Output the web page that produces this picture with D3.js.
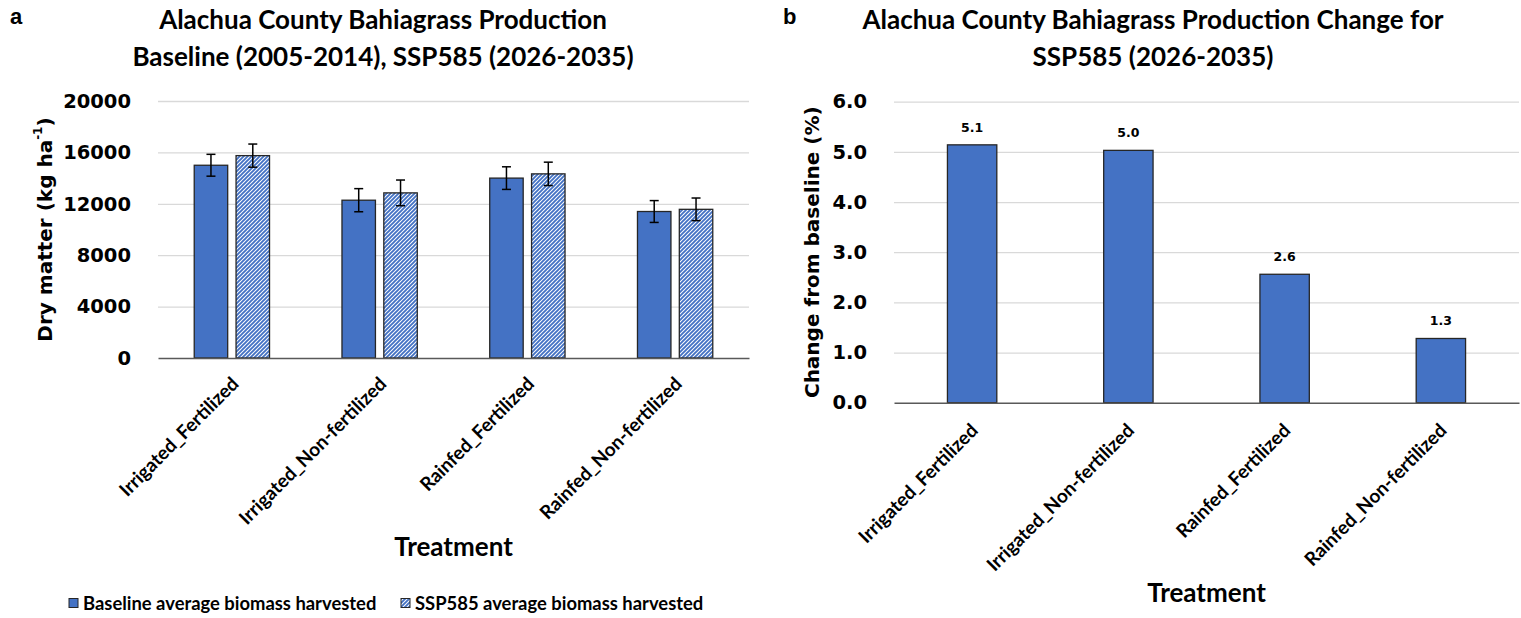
<!DOCTYPE html>
<html>
<head>
<meta charset="utf-8">
<script src="https://cdn.jsdelivr.net/npm/d3@7"></script>
<style>
  html, body { margin: 0; padding: 0; background: #fff; }
  svg { display: block; }
  .title { font-family: Lato, "Open Sans", sans-serif; font-weight: 700; fill: #000; }
  .tick-num { font-family: "DejaVu Sans", sans-serif; font-weight: 700; fill: #000; }
  .cat { font-family: Lato, "Open Sans", sans-serif; font-weight: 700; fill: #000; }
</style>
</head>
<body>
<svg id="chart" width="1521" height="618"></svg>
<script>
// Treatments shared by both panels
const categories = ["Irrigated_Fertilized", "Irrigated_Non-fertilized", "Rainfed_Fertilized", "Rainfed_Non-fertilized"];

// Panel a: average dry matter harvested (kg/ha) with error bars
const baselineBiomass = [15000, 12280, 14000, 11400];
const baselineError   = [850, 900, 880, 850];
const ssp585Biomass   = [15750, 12850, 14330, 11570];
const ssp585Error     = [900, 1000, 910, 880];
const biomassTicks    = [0, 4000, 8000, 12000, 16000, 20000];

// Panel b: percentage change of SSP585 over the baseline
const changePct   = [5.14, 5.03, 2.56, 1.28];
const changeTicks = [0, 1, 2, 3, 4, 5, 6];

const seriesNames = ["Baseline average biomass harvested", "SSP585 average biomass harvested"];

const BLUE = "#4472C4";
const OUTLINE = "#262626";
const GRID = "#d9d9d9";
const AXIS = "#595959";

const svg = d3.select("#chart");

// Diagonal hatch used for the SSP585 series
const defs = svg.append("defs");
const pat = defs.append("pattern")
  .attr("id", "hatch")
  .attr("patternUnits", "userSpaceOnUse")
  .attr("width", 4).attr("height", 4);
pat.append("rect").attr("width", 4).attr("height", 4).attr("fill", "#fff");
pat.append("path")
  .attr("d", "M-1,1 L1,-1 M0,4 L4,0 M3,5 L5,3")
  .attr("stroke", BLUE).attr("stroke-width", 1.9);

// ---------- Panel a ----------
const A = { left: 158, right: 749, top: 101, bottom: 358 };

const xA = d3.scaleBand().domain(categories).range([A.left, A.right]).padding(0);
const xInner = d3.scaleBand().domain([0, 1])
  .range([0, xA.bandwidth()]).paddingInner(0.2).paddingOuter(0.866);
const yA = d3.scaleLinear().domain([0, 20000]).range([A.bottom, A.top]);

const gA = svg.append("g");

// gridlines
gA.append("g")
  .attr("transform", `translate(${A.left},0)`)
  .call(d3.axisLeft(yA).tickValues(biomassTicks.slice(1)).tickSize(-(A.right - A.left)).tickFormat(""))
  .call(g => g.select(".domain").remove())
  .call(g => g.selectAll("line").attr("stroke", GRID).attr("stroke-width", 1.3));

// y tick labels
gA.append("g")
  .attr("transform", `translate(${A.left},0)`)
  .call(d3.axisLeft(yA).tickValues(biomassTicks).tickSize(0).tickPadding(27).tickFormat(d3.format("d")))
  .call(g => g.select(".domain").remove())
  .call(g => g.selectAll("text").attr("class", "tick-num").style("font-size", "19.5px")
    .attr("font-family", null).attr("fill", "#000"));

const bioSeries = [
  { vals: baselineBiomass, errs: baselineError, fill: BLUE },
  { vals: ssp585Biomass, errs: ssp585Error, fill: "url(#hatch)" }
];

bioSeries.forEach((s, si) => {
  const bars = gA.append("g");
  bars.selectAll("rect").data(categories).join("rect")
    .attr("x", (c) => xA(c) + xInner(si))
    .attr("width", xInner.bandwidth())
    .attr("y", (c, i) => yA(s.vals[i]))
    .attr("height", (c, i) => yA(0) - yA(s.vals[i]))
    .attr("fill", s.fill)
    .attr("stroke", OUTLINE).attr("stroke-width", 1.3);

  const eb = gA.append("g").attr("stroke", "#000").attr("stroke-width", 1.5);
  categories.forEach((c, i) => {
    const cx = xA(c) + xInner(si) + xInner.bandwidth() / 2;
    const hi = yA(s.vals[i] + s.errs[i]);
    const lo = yA(s.vals[i] - s.errs[i]);
    eb.append("line").attr("x1", cx).attr("x2", cx).attr("y1", hi).attr("y2", lo);
    eb.append("line").attr("x1", cx - 4.5).attr("x2", cx + 4.5).attr("y1", hi).attr("y2", hi);
    eb.append("line").attr("x1", cx - 4.5).attr("x2", cx + 4.5).attr("y1", lo).attr("y2", lo);
  });
});

// x axis with rotated category labels
gA.append("g")
  .attr("transform", `translate(0,${A.bottom})`)
  .call(d3.axisBottom(xA).tickSize(0).tickPadding(0))
  .call(g => g.select(".domain").attr("stroke", AXIS).attr("stroke-width", 1.6))
  .call(g => g.selectAll("text")
    .attr("class", "cat").style("font-size", "19px").attr("font-family", null).attr("fill", "#000")
    .attr("text-anchor", "end").attr("dy", null).attr("y", 0)
    .attr("transform", "translate(8,27) rotate(-45)"));

// titles and axis labels
gA.append("text").attr("class", "title").attr("x", 383).attr("y", 29)
  .attr("text-anchor", "middle").style("font-size", "26px")
  .text("Alachua County Bahiagrass Production");
gA.append("text").attr("class", "title").attr("x", 383).attr("y", 66)
  .attr("text-anchor", "middle").style("font-size", "26px")
  .text("Baseline (2005-2014), SSP585 (2026-2035)");
gA.append("text").attr("x", 10).attr("y", 24)
  .style("font-family", "'Liberation Sans', Arial, sans-serif").style("font-weight", 700).style("font-size", "22px")
  .text("a");

const yLabA = gA.append("text").attr("class", "tick-num")
  .attr("transform", `translate(45,${(A.top + A.bottom) / 2}) rotate(-90)`)
  .attr("text-anchor", "middle").attr("dominant-baseline", "central")
  .style("font-size", "20px");
yLabA.append("tspan").text("Dry matter (kg ha");
yLabA.append("tspan").attr("dy", -7).style("font-size", "12px").text("-1");
yLabA.append("tspan").attr("dy", 7).text(")");

gA.append("text").attr("class", "title").attr("x", (A.left + A.right) / 2).attr("y", 556)
  .attr("text-anchor", "middle").style("font-size", "26px").text("Treatment");

// legend
const legend = gA.append("g").attr("transform", "translate(0,603)");
const legendX = [69, 401];
seriesNames.forEach((name, i) => {
  const item = legend.append("g").attr("transform", `translate(${legendX[i]},0)`);
  item.append("rect").attr("x", 0).attr("y", -4.5).attr("width", 9).attr("height", 9)
    .attr("fill", i === 0 ? BLUE : "url(#hatch)").attr("stroke", OUTLINE).attr("stroke-width", 1);
  item.append("text").attr("class", "cat").attr("x", 14).attr("y", 0)
    .attr("dominant-baseline", "central").style("font-size", "18.4px").text(name);
});

// ---------- Panel b ----------
const B = { left: 894, right: 1519, top: 101.7, bottom: 402.7 };

const xB = d3.scaleBand().domain(categories).range([B.left, B.right])
  .paddingInner(0.684).paddingOuter(0.342);
const yB = d3.scaleLinear().domain([0, 6]).range([B.bottom, B.top]);

const gB = svg.append("g");

gB.append("g")
  .attr("transform", `translate(${B.left},0)`)
  .call(d3.axisLeft(yB).tickValues(changeTicks.slice(1)).tickSize(-(B.right - B.left)).tickFormat(""))
  .call(g => g.select(".domain").remove())
  .call(g => g.selectAll("line").attr("stroke", GRID).attr("stroke-width", 1.3));

gB.append("g")
  .attr("transform", `translate(${B.left},0)`)
  .call(d3.axisLeft(yB).tickValues(changeTicks).tickSize(0).tickPadding(27).tickFormat(d3.format(".1f")))
  .call(g => g.select(".domain").remove())
  .call(g => g.selectAll("text").attr("class", "tick-num").style("font-size", "19.5px")
    .attr("font-family", null).attr("fill", "#000"));

gB.append("g").selectAll("rect").data(categories).join("rect")
  .attr("x", c => xB(c))
  .attr("width", xB.bandwidth())
  .attr("y", (c, i) => yB(changePct[i]))
  .attr("height", (c, i) => yB(0) - yB(changePct[i]))
  .attr("fill", BLUE).attr("stroke", OUTLINE).attr("stroke-width", 1.3);

gB.append("g").selectAll("text").data(categories).join("text")
  .attr("class", "tick-num")
  .attr("x", c => xB(c) + xB.bandwidth() / 2)
  .attr("y", (c, i) => yB(changePct[i]) - 13)
  .attr("text-anchor", "middle").style("font-size", "12.5px")
  .text((c, i) => d3.format(".1f")(changePct[i]));

gB.append("g")
  .attr("transform", `translate(0,${B.bottom})`)
  .call(d3.axisBottom(xB).tickSize(0).tickPadding(0))
  .call(g => g.select(".domain").attr("stroke", AXIS).attr("stroke-width", 1.6))
  .call(g => g.selectAll("text")
    .attr("class", "cat").style("font-size", "19px").attr("font-family", null).attr("fill", "#000")
    .attr("text-anchor", "end").attr("dy", null).attr("y", 0)
    .attr("transform", "translate(7,29) rotate(-45)"));

gB.append("text").attr("class", "title").attr("x", 1153).attr("y", 29)
  .attr("text-anchor", "middle").style("font-size", "26px")
  .text("Alachua County Bahiagrass Production Change for");
gB.append("text").attr("class", "title").attr("x", 1153).attr("y", 66)
  .attr("text-anchor", "middle").style("font-size", "26px")
  .text("SSP585 (2026-2035)");
gB.append("text").attr("x", 783).attr("y", 24)
  .style("font-family", "'Liberation Sans', Arial, sans-serif").style("font-weight", 700).style("font-size", "22px")
  .text("b");

gB.append("text").attr("class", "tick-num")
  .attr("transform", `translate(812,${(B.top + B.bottom) / 2}) rotate(-90)`)
  .attr("text-anchor", "middle").attr("dominant-baseline", "central")
  .style("font-size", "20px").text("Change from baseline (%)");

gB.append("text").attr("class", "title").attr("x", (B.left + B.right) / 2).attr("y", 602)
  .attr("text-anchor", "middle").style("font-size", "26px").text("Treatment");
</script>
</body>
</html>
